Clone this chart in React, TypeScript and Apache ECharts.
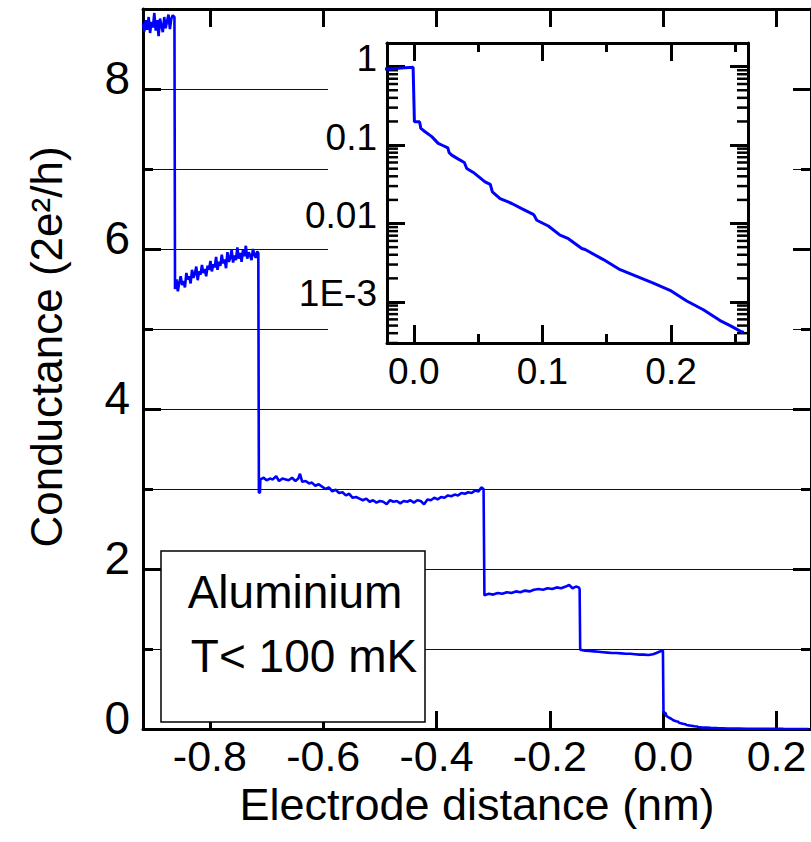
import React, { useEffect, useRef } from 'react';
import * as echarts from 'echarts';

const HAND = "'Liberation Sans', Arial, sans-serif";
const ARIAL = "'Liberation Sans', Arial, sans-serif";

// Main axes
const X_MIN = -0.918;
const X_MAX = 0.2608;
const X_TICKS = [-0.8, -0.6, -0.4, -0.2, 0.0, 0.2];
const G_MIN = 0;
const G_MAX = 9;

// Inset axes
const IX_MIN = -0.0208;
const IX_MAX = 0.2598;
const IX_MAJOR = [0, 0.1, 0.2];
const IX_MINOR = [0.05, 0.15, 0.25];
const IG_MIN = 3e-4;
const IG_MAX = 2;
const IG_DECADE_LABELS: Record<string, string> = { '0': '1', '-1': '0.1', '-2': '0.01', '-3': '1E-3' };
const IG_MANTISSAS = [2, 3, 4, 5, 6, 7, 8, 9];
const IG_DECADES = [-4, -3, -2, -1, 0];

// Trace segments [electrode distance (nm), conductance (2e^2/h)]
const plateau9: [number, number][] = [
  [-0.918, 8.82], [-0.9155, 8.72], [-0.913, 8.86], [-0.9105, 8.74], [-0.908, 8.9], [-0.9055, 8.7],
  [-0.903, 8.84], [-0.9005, 8.77], [-0.898, 8.95], [-0.8955, 8.73], [-0.893, 8.86], [-0.8905, 8.66],
  [-0.888, 8.88], [-0.8855, 8.79], [-0.883, 8.71], [-0.8805, 8.9], [-0.878, 8.76], [-0.8755, 8.85],
  [-0.873, 8.93], [-0.8705, 8.75], [-0.868, 8.88], [-0.8655, 8.92], [-0.8625, 8.9],
];
const plateau6: [number, number][] = [
  [-0.8615, 5.5], [-0.859, 5.62], [-0.8565, 5.47], [-0.854, 5.58], [-0.8515, 5.66], [-0.849, 5.55],
  [-0.8465, 5.6], [-0.844, 5.52], [-0.8415, 5.7], [-0.839, 5.62], [-0.8365, 5.66], [-0.834, 5.57],
  [-0.8315, 5.74], [-0.829, 5.64], [-0.8265, 5.69], [-0.824, 5.78], [-0.8215, 5.61], [-0.819, 5.72],
  [-0.8165, 5.68], [-0.814, 5.8], [-0.8115, 5.7], [-0.809, 5.75], [-0.8065, 5.66], [-0.804, 5.79],
  [-0.8015, 5.74], [-0.799, 5.85], [-0.7965, 5.72], [-0.794, 5.81], [-0.7915, 5.77], [-0.789, 5.9],
  [-0.7865, 5.74], [-0.784, 5.84], [-0.7815, 5.79], [-0.779, 5.93], [-0.7765, 5.82], [-0.774, 5.87],
  [-0.7715, 5.76], [-0.769, 5.96], [-0.7665, 5.84], [-0.764, 5.89], [-0.7615, 5.99], [-0.759, 5.83],
  [-0.7565, 5.92], [-0.754, 5.86], [-0.7515, 6.02], [-0.749, 5.88], [-0.7465, 5.95], [-0.744, 5.84],
  [-0.7415, 5.99], [-0.739, 5.91], [-0.7365, 6.04], [-0.734, 5.88], [-0.7315, 5.96], [-0.729, 5.92],
  [-0.7265, 5.86], [-0.724, 6.0], [-0.7215, 5.93], [-0.719, 5.89], [-0.7165, 5.97], [-0.7145, 5.95],
];
const plateau3: [number, number][] = [
  [-0.7135, 2.95], [-0.7115, 2.96], [-0.711, 3.12], [-0.705, 3.14], [-0.7, 3.11], [-0.694, 3.13],
  [-0.689, 3.12], [-0.683, 3.16], [-0.678, 3.1], [-0.672, 3.13], [-0.666, 3.12], [-0.661, 3.11],
  [-0.655, 3.14], [-0.649, 3.1], [-0.644, 3.13], [-0.641, 3.19], [-0.637, 3.09], [-0.631, 3.1],
  [-0.625, 3.07], [-0.62, 3.08], [-0.614, 3.04], [-0.608, 3.06], [-0.602, 3.03], [-0.596, 3.0],
  [-0.59, 3.02], [-0.584, 2.97], [-0.578, 2.99], [-0.572, 2.95], [-0.566, 2.96], [-0.56, 2.92],
  [-0.554, 2.94], [-0.548, 2.89], [-0.542, 2.9], [-0.536, 2.88], [-0.53, 2.86], [-0.524, 2.88],
  [-0.518, 2.84], [-0.512, 2.86], [-0.506, 2.83], [-0.5, 2.85], [-0.494, 2.84], [-0.488, 2.81],
  [-0.482, 2.86], [-0.476, 2.84], [-0.47, 2.85], [-0.464, 2.82], [-0.458, 2.85], [-0.452, 2.84],
  [-0.446, 2.86], [-0.44, 2.83], [-0.434, 2.86], [-0.428, 2.85], [-0.422, 2.81], [-0.416, 2.87],
  [-0.41, 2.86], [-0.404, 2.89], [-0.398, 2.87], [-0.392, 2.9], [-0.386, 2.89], [-0.38, 2.92],
  [-0.374, 2.91], [-0.368, 2.93], [-0.362, 2.92], [-0.356, 2.95], [-0.35, 2.94], [-0.344, 2.96],
  [-0.338, 2.95], [-0.332, 2.98], [-0.326, 2.97], [-0.321, 3.02], [-0.317, 3.0],
];
const plateau17: [number, number][] = [
  [-0.3155, 1.67], [-0.308, 1.69], [-0.3, 1.68], [-0.292, 1.7], [-0.284, 1.69], [-0.276, 1.71],
  [-0.268, 1.7], [-0.26, 1.72], [-0.252, 1.71], [-0.244, 1.73], [-0.236, 1.72], [-0.228, 1.74],
  [-0.22, 1.75], [-0.212, 1.74], [-0.204, 1.76], [-0.196, 1.75], [-0.188, 1.77], [-0.18, 1.76],
  [-0.172, 1.78], [-0.166, 1.8], [-0.16, 1.76], [-0.154, 1.78], [-0.149, 1.77], [-0.1475, 1.75],
];
const plateau1: [number, number][] = [
  [-0.1465, 0.99], [-0.138, 0.98], [-0.13, 0.975], [-0.122, 0.97], [-0.114, 0.965], [-0.106, 0.96],
  [-0.098, 0.955], [-0.09, 0.95], [-0.082, 0.95], [-0.074, 0.945], [-0.066, 0.94], [-0.058, 0.94],
  [-0.05, 0.935], [-0.042, 0.93], [-0.034, 0.93], [-0.026, 0.925], [-0.018, 0.935], [-0.012, 0.95],
  [-0.007, 0.965], [-0.003, 0.975], [-0.0005, 0.98],
];
const tunnelTail: [number, number][] = [
  [0.0005, 0.198], [0.0045, 0.198], [0.0055, 0.163], [0.0088, 0.148], [0.014, 0.128], [0.019, 0.105],
  [0.023, 0.098], [0.0265, 0.092], [0.0275, 0.08], [0.0295, 0.0745], [0.0347, 0.0662], [0.0393, 0.06],
  [0.0412, 0.0503], [0.0463, 0.0448], [0.0554, 0.034], [0.0595, 0.0315], [0.0611, 0.0253], [0.0671, 0.0208],
  [0.0762, 0.018], [0.0839, 0.0155], [0.0917, 0.0134], [0.0935, 0.0128], [0.0956, 0.011], [0.1046, 0.0093],
  [0.1137, 0.0071], [0.1202, 0.0064], [0.1306, 0.0048], [0.1332, 0.00466], [0.1474, 0.00347], [0.1604, 0.00258],
  [0.1733, 0.00212], [0.1862, 0.00174], [0.1992, 0.00141], [0.2122, 0.00103], [0.2251, 0.000797], [0.2381, 0.00058],
  [0.2459, 0.0005], [0.2537, 0.000425], [0.2565, 0.00041],
];

const BLUE = '#0000ff';

export default function App() {
  const ref = useRef<HTMLDivElement>(null);
  useEffect(() => {
    if (!ref.current) return;
    const chart = echarts.init(ref.current, null, { renderer: 'svg' });
    const mainTrace = [...plateau9, ...plateau6, ...plateau3, ...plateau17, ...plateau1, ...tunnelTail];
    const insetTrace = [...plateau1, ...tunnelTail];
    const insetMinor: number[] = [];
    IG_DECADES.forEach((k) => IG_MANTISSAS.forEach((m) => {
      const v = m * Math.pow(10, k);
      if (v > IG_MIN && v < IG_MAX) insetMinor.push(v);
    }));

    const axisLine = { show: true, onZero: false, lineStyle: { color: '#000', width: 3 } };
    const noLine = { show: false, onZero: false };
    const tick = (len: number, w = 3) => ({ show: true, inside: true, length: len, lineStyle: { color: '#000', width: w } });

    const option: any = {
      animation: false,
      backgroundColor: '#fff',
      grid: [
        { left: 143, top: 9, width: 669, height: 720 },
        { left: 387, top: 43, width: 361, height: 300 },
      ],
      xAxis: [
        {
          gridIndex: 0, type: 'value', min: X_MIN, max: X_MAX, position: 'bottom', z: 0,
          axisLine, axisTick: { ...tick(18), customValues: X_TICKS },
          axisLabel: { customValues: X_TICKS, formatter: (v: number) => v.toFixed(1), fontFamily: HAND, fontSize: 43, color: '#000', margin: 5 },
          splitLine: { show: false },
          name: 'Electrode distance (nm)', nameLocation: 'middle', nameGap: 52,
          nameTextStyle: { fontFamily: HAND, fontSize: 45, color: '#000' },
        },
        {
          gridIndex: 0, type: 'value', min: X_MIN, max: X_MAX, position: 'top', z: 0,
          axisLine, axisTick: { ...tick(18), customValues: X_TICKS },
          axisLabel: { show: false }, splitLine: { show: false },
        },
        {
          gridIndex: 1, type: 'value', min: IX_MIN, max: IX_MAX, position: 'bottom', z: 3,
          axisLine, axisTick: { ...tick(18), customValues: IX_MAJOR },
          axisLabel: { customValues: IX_MAJOR, formatter: (v: number) => v.toFixed(1), fontFamily: ARIAL, fontSize: 37, color: '#000', margin: 10 },
          splitLine: { show: false },
        },
        {
          gridIndex: 1, type: 'value', min: IX_MIN, max: IX_MAX, position: 'bottom', z: 3,
          axisLine: noLine, axisTick: { ...tick(9), customValues: IX_MINOR },
          axisLabel: { show: false }, splitLine: { show: false },
        },
        {
          gridIndex: 1, type: 'value', min: IX_MIN, max: IX_MAX, position: 'top', z: 3,
          axisLine, axisTick: { ...tick(18), customValues: IX_MAJOR },
          axisLabel: { show: false }, splitLine: { show: false },
        },
        {
          gridIndex: 1, type: 'value', min: IX_MIN, max: IX_MAX, position: 'top', z: 3,
          axisLine: noLine, axisTick: { ...tick(9), customValues: IX_MINOR },
          axisLabel: { show: false }, splitLine: { show: false },
        },
      ],
      yAxis: [
        {
          gridIndex: 0, type: 'value', min: G_MIN, max: G_MAX, interval: 1, position: 'left', z: 0,
          axisLine, axisTick: tick(10),
          axisLabel: {
            formatter: (v: number) => (v % 2 === 0 && v < G_MAX ? String(v) : ''),
            fontFamily: HAND, fontSize: 46, color: '#000', margin: 13, verticalAlign: 'bottom', lineHeight: 22,
          },
          splitLine: { show: true, lineStyle: { color: '#111', width: 1.2 } },
        },
        {
          gridIndex: 0, type: 'value', min: G_MIN, max: G_MAX, interval: 2, position: 'left', z: 0,
          axisLine: noLine, axisTick: tick(18), axisLabel: { show: false }, splitLine: { show: false },
        },
        {
          gridIndex: 0, type: 'value', min: G_MIN, max: G_MAX, interval: 1, position: 'right', z: 0,
          axisLine, axisTick: tick(10), axisLabel: { show: false }, splitLine: { show: false },
        },
        {
          gridIndex: 0, type: 'value', min: G_MIN, max: G_MAX, interval: 2, position: 'right', z: 0,
          axisLine: noLine, axisTick: tick(18), axisLabel: { show: false }, splitLine: { show: false },
        },
        {
          gridIndex: 1, type: 'log', logBase: 10, min: IG_MIN, max: IG_MAX, position: 'left', z: 3,
          axisLine, axisTick: tick(18),
          axisLabel: {
            formatter: (v: number) => IG_DECADE_LABELS[String(Math.round(Math.log10(v)))] ?? '',
            showMinLabel: false, showMaxLabel: false,
            fontFamily: ARIAL, fontSize: 37, color: '#000', margin: 10, verticalAlign: 'bottom', lineHeight: 16,
          },
          splitLine: { show: false },
        },
        {
          gridIndex: 1, type: 'log', logBase: 10, min: IG_MIN, max: IG_MAX, position: 'right', z: 3,
          axisLine, axisTick: tick(18), axisLabel: { show: false }, splitLine: { show: false },
        },
      ],
      graphic: [
        { type: 'rect', z: 1, silent: true, shape: { x: 328, y: 30, width: 465, height: 370 }, style: { fill: '#fff' } },
        { type: 'rect', z: 1, silent: true, shape: { x: 161, y: 551, width: 264, height: 171 }, style: { fill: '#fff', stroke: '#000', lineWidth: 1.5 } },
        { type: 'text', z: 2, silent: true, x: 295, y: 592, style: { text: 'Aluminium', fontFamily: HAND, fontSize: 46, fill: '#000', align: 'center', verticalAlign: 'middle' } },
        { type: 'text', z: 2, silent: true, x: 304, y: 656, style: { text: 'T< 100 mK', fontFamily: HAND, fontSize: 46, fill: '#000', align: 'center', verticalAlign: 'middle' } },
        { type: 'text', z: 2, silent: true, x: 46, y: 347, rotation: Math.PI / 2, style: { text: 'Conductance (2e²/h)', fontFamily: HAND, fontSize: 44, fill: '#000', align: 'center', verticalAlign: 'middle' } },
      ],
      series: [
        {
          type: 'line', xAxisIndex: 0, yAxisIndex: 0, data: mainTrace, showSymbol: false, symbol: 'none',
          lineStyle: { color: BLUE, width: 2.6 }, z: 2, clip: true,
        },
        {
          type: 'line', xAxisIndex: 2, yAxisIndex: 4, data: insetTrace, showSymbol: false, symbol: 'none',
          lineStyle: { color: BLUE, width: 3 }, z: 4, clip: true,
        },
        {
          type: 'custom', xAxisIndex: 2, yAxisIndex: 4, z: 4, silent: true,
          data: insetMinor.map((v) => [IX_MIN, v]),
          renderItem: (_p: any, api: any) => {
            const v = api.value(1);
            const l = api.coord([IX_MIN, v]);
            const r = api.coord([IX_MAX, v]);
            return {
              type: 'group',
              children: [
                { type: 'line', shape: { x1: l[0], y1: l[1], x2: l[0] + 11, y2: l[1] }, style: { stroke: '#000', lineWidth: 2.5 } },
                { type: 'line', shape: { x1: r[0] - 11, y1: r[1], x2: r[0], y2: r[1] }, style: { stroke: '#000', lineWidth: 2.5 } },
              ],
            };
          },
        },
      ],
    };
    chart.setOption(option);
    return () => chart.dispose();
  }, []);
  return <div ref={ref} style={{ position: 'fixed', left: 0, top: 0, width: 811, height: 842, background: '#fff' }} />;
}
